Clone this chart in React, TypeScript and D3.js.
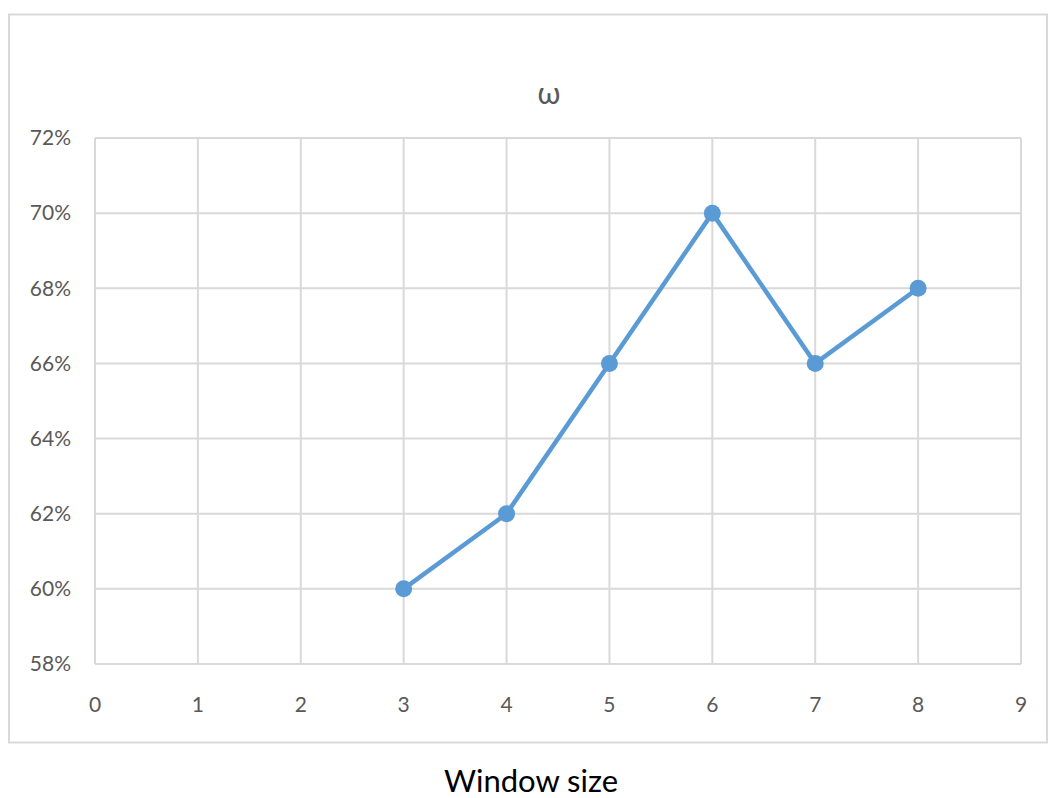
import React from "react";
import * as d3 from "d3";

const windowSizes = [3, 4, 5, 6, 7, 8];
const omegaValues = [0.6, 0.62, 0.66, 0.7, 0.66, 0.68];
const xTicks = [0, 1, 2, 3, 4, 5, 6, 7, 8, 9];
const yTicks = [0.58, 0.6, 0.62, 0.64, 0.66, 0.68, 0.7, 0.72];

const W = 1049;
const H = 798;
const plot = { left: 95, right: 1021, top: 138, bottom: 664 };

export default function App() {
  const x = d3.scaleLinear().domain([0, 9]).range([plot.left, plot.right]);
  const y = d3.scaleLinear().domain([0.58, 0.72]).range([plot.bottom, plot.top]);
  const pts = windowSizes.map((w, i) => [w, omegaValues[i]] as [number, number]);
  const line = d3
    .line<[number, number]>()
    .x((d) => x(d[0]))
    .y((d) => y(d[1]));
  const fmt = d3.format(".0%");
  const font = "Lato, 'Open Sans', sans-serif";

  return (
    <svg
      width={W}
      height={H}
      style={{ position: "absolute", left: 0, top: 0, background: "#fff" }}
    >
      <rect x={9} y={14.5} width={1038} height={728} fill="#fff" stroke="#d9d9d9" strokeWidth={2} />
      <text x={549} y={104} textAnchor="middle" fontFamily={font} fontSize={30} fill="#595959">
        ω
      </text>
      {xTicks.map((t) => (
        <line key={"vx" + t} x1={x(t)} x2={x(t)} y1={plot.top} y2={plot.bottom} stroke="#d9d9d9" strokeWidth={2} />
      ))}
      {yTicks.map((t) => (
        <line key={"hy" + t} x1={plot.left} x2={plot.right} y1={y(t)} y2={y(t)} stroke="#d9d9d9" strokeWidth={2} />
      ))}
      {yTicks.map((t) => (
        <text
          key={"ly" + t}
          x={71}
          y={y(t)}
          dy="0.35em"
          textAnchor="end"
          fontFamily={font}
          fontSize={21}
          fill="#595959"
        >
          {fmt(t)}
        </text>
      ))}
      {xTicks.map((t) => (
        <text
          key={"lx" + t}
          x={x(t)}
          y={705}
          dy="0.35em"
          textAnchor="middle"
          fontFamily={font}
          fontSize={21}
          fill="#595959"
        >
          {t}
        </text>
      ))}
      <path d={line(pts) || ""} fill="none" stroke="#5b9bd5" strokeWidth={4.5} strokeLinejoin="round" />
      {pts.map((p, i) => (
        <circle key={"pt" + i} cx={x(p[0])} cy={y(p[1])} r={8.5} fill="#5b9bd5" />
      ))}
      <text x={531} y={792} textAnchor="middle" fontFamily={font} fontSize={31} fill="#000">
        Window size
      </text>
    </svg>
  );
}
